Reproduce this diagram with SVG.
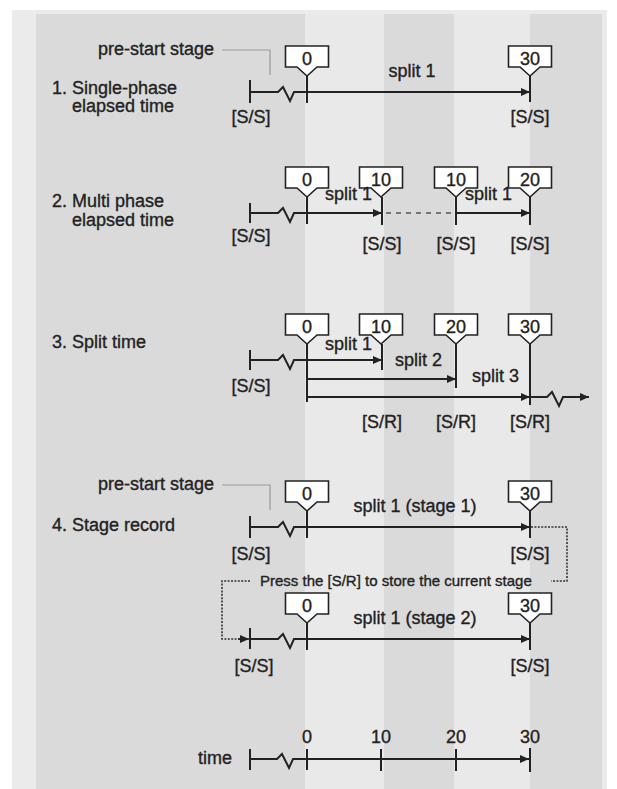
<svg xmlns="http://www.w3.org/2000/svg" width="617" height="789" viewBox="0 0 617 789">
<style>
text{font-family:"Liberation Sans",Arial,sans-serif;font-size:18px;fill:#222;stroke:#222;stroke-width:0.35}
.c{text-anchor:middle}
.sm{font-size:15px}
.ln{fill:none;stroke:#222;stroke-width:2}
.tk{stroke:#222;stroke-width:2}
.box{fill:#fff;stroke:#222;stroke-width:1.6}
.lead{fill:none;stroke:#9a9a9a;stroke-width:1.2}
.dot{fill:none;stroke:#333;stroke-width:1.6;stroke-dasharray:2 1.4}
.dash{fill:none;stroke:#555;stroke-width:1.5;stroke-dasharray:5 5}
</style>
<defs>
<marker id="ah" markerUnits="userSpaceOnUse" markerWidth="10" markerHeight="9" refX="9" refY="4" orient="auto"><path d="M0,0 L9,4 L0,8 z" fill="#222"/></marker>
<path id="cb" d="M-21.5,-46 H21.5 V-25 H10 L0,-16 L-10,-25 H-21.5 Z"/>
</defs>
<g id="background">
<rect x="12" y="10" width="595" height="779" fill="#ebebeb"/>
<rect x="36" y="14" width="566" height="775" fill="#dadada"/>
<rect x="305" y="14" width="79" height="775" fill="#e9e9e9"/>
<rect x="454" y="14" width="76" height="775" fill="#e9e9e9"/>
</g>
<g id="labels">
<text x="52" y="94">1. Single-phase<tspan x="72" y="112">elapsed time</tspan></text>
<text x="52" y="207">2. Multi phase<tspan x="72" y="226">elapsed time</tspan></text>
<text x="52" y="348">3. Split time</text>
<text x="52" y="531">4. Stage record</text>
<text x="198" y="764">time</text>
<text x="98" y="55">pre-start stage</text>
<text x="98" y="490">pre-start stage</text>
</g>
<g id="connectors">
<path class="lead" d="M222,50 H270 V75"/>
<path class="lead" d="M222,485 H270 V510"/>
<path class="ln" d="M250,92 H278 L283,87 L290,101 L294,92 H530" marker-end="url(#ah)"/>
<path class="tk" d="M250,80 V103 M307,76 V103 M530,76 V102"/>
<path class="ln" d="M250,213 H278 L283,208 L290,222 L294,213 H382" marker-end="url(#ah)"/>
<path class="dash" d="M386,213 H456"/>
<path class="ln" d="M456,213 H530" marker-end="url(#ah)"/>
<path class="tk" d="M250,203 V223 M307,197 V224 M382,197 V225 M456,197 V225 M530,197 V225"/>
<path class="ln" d="M250,360 H278 L283,355 L290,369 L294,360 H382" marker-end="url(#ah)"/>
<path class="ln" d="M307,379 H456" marker-end="url(#ah)"/>
<path class="ln" d="M307,397 H530" marker-end="url(#ah)"/>
<path class="ln" d="M530,397 H547 L552,392 L559,406 L563,397 H589" marker-end="url(#ah)"/>
<path class="tk" d="M250,350 V370 M307,344 V402 M382,344 V370 M456,344 V388 M530,344 V405"/>
<path class="ln" d="M250,527 H278 L283,522 L290,536 L294,527 H530" marker-end="url(#ah)"/>
<path class="tk" d="M250,516 V538 M307,511 V538 M530,511 V538"/>
<path class="dot" d="M531,527 H567 V581 H551"/>
<path class="dot" d="M250,581 H222 V639 H240"/>
<path class="ln" d="M238,639 H249" marker-end="url(#ah)" style="stroke-width:1.5"/>
<path class="ln" d="M250,639 H278 L283,634 L290,648 L294,639 H530" marker-end="url(#ah)"/>
<path class="tk" d="M250,628 V649 M307,623 V650 M530,623 V650"/>
<path class="ln" d="M250,759 H277 L282,754 L289,768 L293,759 H529" marker-end="url(#ah)"/>
<path class="tk" d="M250,749 V770 M307,749 V770 M381,749 V771 M456,749 V771 M530,748 V772"/>
</g>
<g id="s1-0"><use href="#cb" x="307" y="92" class="box"/><text class="c" x="307" y="65">0</text></g>
<g id="s1-30"><use href="#cb" x="530" y="92" class="box"/><text class="c" x="530" y="65">30</text></g>
<g id="s2-0"><use href="#cb" x="307" y="213" class="box"/><text class="c" x="307" y="186">0</text></g>
<g id="s2-10a"><use href="#cb" x="381" y="213" class="box"/><text class="c" x="381" y="186">10</text></g>
<g id="s2-10b"><use href="#cb" x="456" y="213" class="box"/><text class="c" x="456" y="186">10</text></g>
<g id="s2-20"><use href="#cb" x="530" y="213" class="box"/><text class="c" x="530" y="186">20</text></g>
<g id="s3-0"><use href="#cb" x="307" y="360" class="box"/><text class="c" x="307" y="333">0</text></g>
<g id="s3-10"><use href="#cb" x="381" y="360" class="box"/><text class="c" x="381" y="333">10</text></g>
<g id="s3-20"><use href="#cb" x="456" y="360" class="box"/><text class="c" x="456" y="333">20</text></g>
<g id="s3-30"><use href="#cb" x="530" y="360" class="box"/><text class="c" x="530" y="333">30</text></g>
<g id="s4a-0"><use href="#cb" x="307" y="527" class="box"/><text class="c" x="307" y="500">0</text></g>
<g id="s4a-30"><use href="#cb" x="530" y="527" class="box"/><text class="c" x="530" y="500">30</text></g>
<g id="s4b-0"><use href="#cb" x="307" y="639" class="box"/><text class="c" x="307" y="612">0</text></g>
<g id="s4b-30"><use href="#cb" x="530" y="639" class="box"/><text class="c" x="530" y="612">30</text></g>
<g id="split-labels">
<text class="c" x="412" y="77">split 1</text>
<text x="325" y="200">split 1</text>
<text x="465" y="200">split 1</text>
<text x="325" y="350">split 1</text>
<text x="395" y="366">split 2</text>
<text x="472" y="382">split 3</text>
<text class="c" x="415" y="512">split 1 (stage 1)</text>
<text class="c" x="415" y="624">split 1 (stage 2)</text>
<text class="sm" x="260" y="586">Press the [S/R] to store the current stage</text>
</g>
<g id="key-labels">
<text class="c" x="251" y="123">[S/S]</text>
<text class="c" x="530" y="123">[S/S]</text>
<text class="c" x="251" y="242">[S/S]</text>
<text class="c" x="382" y="250">[S/S]</text>
<text class="c" x="456" y="250">[S/S]</text>
<text class="c" x="530" y="250">[S/S]</text>
<text class="c" x="251" y="392">[S/S]</text>
<text class="c" x="382" y="428">[S/R]</text>
<text class="c" x="456" y="428">[S/R]</text>
<text class="c" x="530" y="428">[S/R]</text>
<text class="c" x="251" y="560">[S/S]</text>
<text class="c" x="530" y="560">[S/S]</text>
<text class="c" x="254" y="672">[S/S]</text>
<text class="c" x="530" y="672">[S/S]</text>
</g>
<g id="time-labels">
<text class="c" x="307" y="743">0</text>
<text class="c" x="381" y="743">10</text>
<text class="c" x="456" y="743">20</text>
<text class="c" x="530" y="743">30</text>
</g>
</svg>
